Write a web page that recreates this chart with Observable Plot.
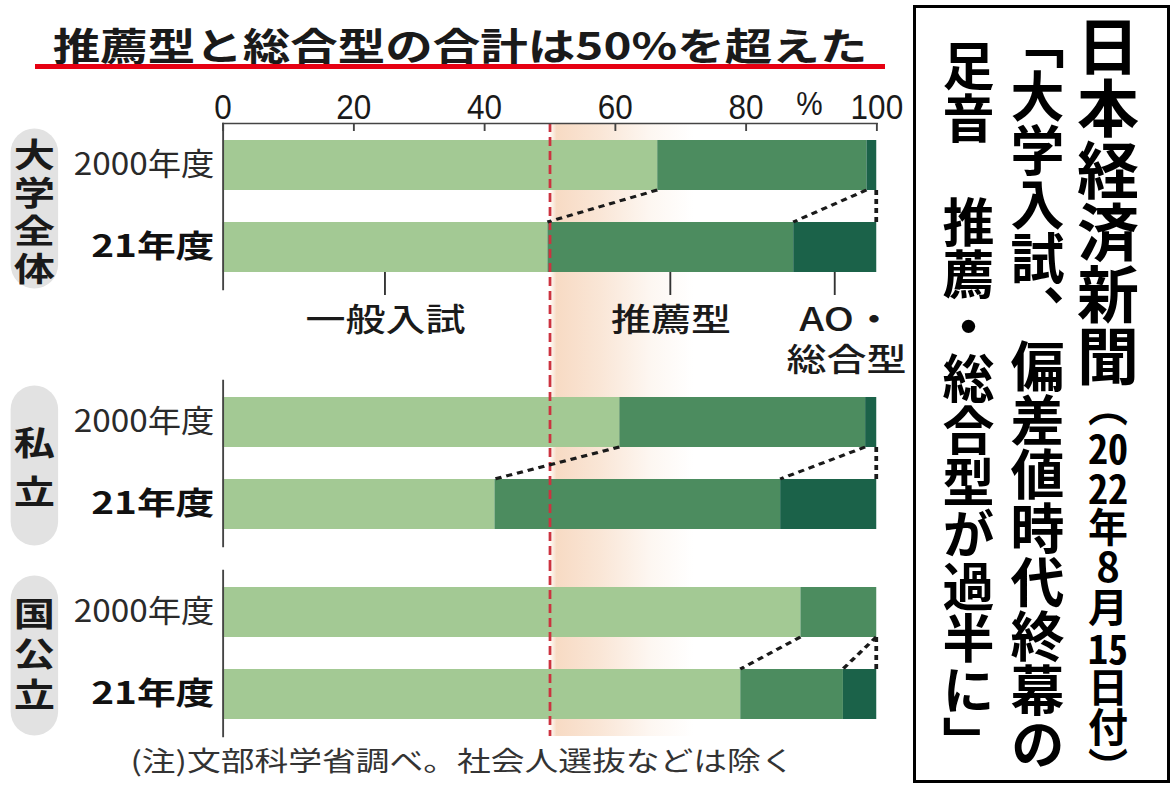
<!DOCTYPE html>
<html><head><meta charset="utf-8">
<script src="https://cdn.jsdelivr.net/npm/d3@7"></script>
<script src="https://cdn.jsdelivr.net/npm/@observablehq/plot@0.6"></script>
<style>
html,body{margin:0;padding:0;background:#fff;}
body{width:1176px;height:787px;position:relative;overflow:hidden;font-family:"Noto Sans CJK JP",sans-serif;}
#left{position:absolute;left:0;top:0;width:724px;height:787px;transform:scaleX(1.25);transform-origin:0 0;}
#title{position:absolute;left:28px;width:680px;top:21px;text-align:center;font-size:38px;font-weight:700;line-height:46px;color:#1a1a1a;white-space:nowrap;}
#redline{position:absolute;left:28px;top:64px;width:680px;height:5px;background:#e60012;}
.plot{position:absolute;left:0;}
.plot svg{overflow:visible;}
#note{position:absolute;left:0;width:740px;top:744px;text-align:center;font-size:27px;line-height:32px;color:#333;white-space:nowrap;}
#box{position:absolute;left:913px;top:5px;width:251px;height:772px;border:3px solid #000;}
.col{position:absolute;writing-mode:vertical-rl;font-weight:700;color:#000;white-space:nowrap;line-height:1;}
#c1{left:161px;top:7px;font-size:62px;}
#c1 .small{font-size:40px;}
#c2{left:94px;top:7px;font-size:54px;}
#c3{left:26px;top:32px;font-size:52px;}
.tcy{text-combine-upright:all;}
.up{text-orientation:upright;}
</style>
</head><body>
<svg width="0" height="0" style="position:absolute">
  <defs>
    <linearGradient id="peach" x1="0" x2="1" y1="0" y2="0">
      <stop offset="0" stop-color="#f3c7a4" stop-opacity="0"/>
      <stop offset="0.05" stop-color="#f3c7a4" stop-opacity="0.65"/>
      <stop offset="0.35" stop-color="#f3c7a4" stop-opacity="0.45"/>
      <stop offset="0.7" stop-color="#f3c7a4" stop-opacity="0.15"/>
      <stop offset="1" stop-color="#f3c7a4" stop-opacity="0"/>
    </linearGradient>
  </defs>
</svg>
<div id="left">
  <div id="title">推薦型と総合型の合計は50%を超えた</div>
  <div id="redline"></div>
  <div id="p1" class="plot" style="top:75px"></div>
  <div id="p2" class="plot" style="top:378px"></div>
  <div id="p3" class="plot" style="top:562px"></div>
  <div id="note">(注)文部科学省調べ。社会人選抜などは除く</div>
</div>
<div id="box">
  <div class="col" id="c1">日本経済新聞<span class="small">（<span class="tcy">20</span><span class="tcy">22</span>年<span class="up">8</span>月<span class="tcy">15</span>日付）</span></div>
  <div class="col" id="c2">「大学入試、偏差値時代終幕の</div>
  <div class="col" id="c3">足音　推薦・総合型が過半に」</div>
</div>
<script>
// ---- data ----
const groups = ["大学全体", "私立", "国公立"];
const years = ["2000年度", "21年度"];
const types = ["一般入試", "推薦型", "AO・総合型"];
// order: 大学全体 2000, 21, 私立 2000, 21, 国公立 2000, 21
const ippan  = [66.5, 49.7, 60.7, 41.6, 88.4, 79.2];
const suisen = [32.0, 37.6, 37.6, 43.7, 11.6, 15.7];
const aoSogo = [1.5, 12.7, 1.7, 14.7, 0.0, 5.1];
const xTicks = [0, 20, 40, 60, 80, 100];
const majority = [50];
const highlightBand = [{x1: 50, x2: 72}];
const colors = ["#a3c994", "#4c8c5f", "#1b6249"];

const series = [ippan, suisen, aoSogo];
const table = groups.flatMap((g, gi) => years.flatMap((yr, yi) =>
  types.map((t, ti) => ({group: g, year: yr, type: t, value: series[ti][gi * 2 + yi]}))));

function ends(g, yr) {
  const rows = table.filter(d => d.group === g && d.year === yr);
  let c = 0;
  return rows.map(d => (c += d.value));
}

const W = 724, ML = 178, MR = 23, FH = 166;
const FRAME_W = W - ML - MR;
const PILL_L = 8, PILL_R = 46;
const FONT = "'Noto Sans CJK JP', sans-serif";
const DIGITS = "'Liberation Sans', Arial, sans-serif";

function connectors(g, leaders) {
  return (index, scales) => {
    const {x, y} = scales;
    const bw = y.bandwidth();
    const a = ends(g, years[0]), b = ends(g, years[1]);
    const yA = y(years[0]) + bw, yB = y(years[1]);
    const sel = d3.create("svg:g");
    const dl = sel.append("g").attr("fill", "none").attr("stroke", "#1a1a1a")
      .attr("stroke-width", 3).attr("stroke-dasharray", "5,4");
    a.forEach((v, i) => dl.append("line")
      .attr("x1", x(v)).attr("y1", yA).attr("x2", x(b[i])).attr("y2", yB));
    if (leaders) {
      const rows = table.filter(d => d.group === g && d.year === years[1]);
      let c = 0;
      const lg = sel.append("g").attr("stroke", "#333").attr("stroke-width", 1.5);
      rows.forEach(d => {
        const mid = c + d.value / 2; c += d.value;
        lg.append("line").attr("x1", x(mid)).attr("x2", x(mid))
          .attr("y1", yB + bw).attr("y2", yB + bw + 23);
      });
    }
    return sel.node();
  };
}

// narrow selected texts horizontally (the reference uses condensed digits)
function squeeze(svg, match, sx) {
  svg.querySelectorAll("text").forEach(node => {
    if (!match(node.textContent)) return;
    const t = node.getAttribute("transform") || "";
    node.setAttribute("transform", `${t} scale(${sx},1)`);
  });
}

function groupPlot(g, o) {
  const rows = table.filter(d => d.group === g);
  const legendRows = (() => {
    let c = 0;
    return rows.filter(d => d.year === years[1]).map(d => {
      const mid = c + d.value / 2; c += d.value;
      return {type: d.type, mid};
    });
  })();
  const marks = [
    Plot.frame({fill: "#e2e2e2", stroke: null, rx: 19, ry: 24,
      insetLeft: -(ML - PILL_L), insetRight: (ML + FRAME_W) - PILL_R, insetTop: 5, insetBottom: 1}),
    Plot.text([g], {frameAnchor: "left", dx: (PILL_L + PILL_R) / 2 - ML, dy: o.gdy, textAnchor: "middle",
      text: d => [...d].join("\n"), lineHeight: o.glh, fontSize: 33, fontWeight: 700,
      fill: "#1a1a1a", fontFamily: FONT}),
    Plot.rect(highlightBand, {x1: "x1", x2: "x2", fill: "url(#peach)",
      insetTop: -o.extTop, insetBottom: -o.extBottom}),
    Plot.barX(rows, {x: "value", y: "year", fill: "type"}),
    Plot.ruleX(majority, {stroke: "#cc3340", strokeWidth: 2.2, strokeDasharray: "9,5",
      insetTop: -o.extTop, insetBottom: -o.extBottom}),
    connectors(g, o.legend),
    Plot.frame({anchor: "left", stroke: "#444", strokeWidth: 1.5}),
    Plot.text(years.slice(0, 1), {y: d => d, frameAnchor: "left", dx: -7, textAnchor: "end",
      fontSize: 31, fontWeight: 400, fill: "#2a2a2a", fontFamily: FONT}),
    Plot.text(years.slice(1), {y: d => d, frameAnchor: "left", dx: -7, textAnchor: "end",
      fontSize: 31, fontWeight: 700, fill: "#111", fontFamily: FONT})
  ];
  if (o.axis) {
    marks.push(
      Plot.frame({anchor: "top", stroke: "#444", strokeWidth: 1.5}),
      Plot.ruleX(xTicks, {stroke: "#444", strokeWidth: 1.5, insetBottom: FH - 8}),
      Plot.axisX(xTicks, {anchor: "top", tickSize: 0, tickPadding: 5, fontSize: 35,
        fontFamily: DIGITS, fill: "#1a1a1a", label: null, tickFormat: d => String(d)}),
      Plot.text(["%"], {frameAnchor: "top-right", dx: -54, dy: -19, fontSize: 33, textAnchor: "middle",
        fontFamily: DIGITS, fill: "#1a1a1a", lineAnchor: "middle"})
    );
  }
  if (o.legend) {
    marks.push(
      Plot.text(legendRows.filter(d => d.type !== types[2]), {x: "mid", y: () => years[1],
        text: "type", dy: 73, fontSize: 32, fontWeight: 500, fill: "#1a1a1a", fontFamily: FONT,
        lineAnchor: "middle"}),
      Plot.text(legendRows.filter(d => d.type === types[2]), {x: "mid", y: () => years[1],
        text: () => "AO・\n総合型", dy: 91, dx: 9, lineHeight: 1.25, fontSize: 32, fontWeight: 500,
        fill: "#1a1a1a", fontFamily: FONT, lineAnchor: "middle"})
    );
  }
  const svg = Plot.plot({
    width: W, height: o.mt + FH + o.mb,
    marginLeft: ML, marginRight: MR, marginTop: o.mt, marginBottom: o.mb,
    x: {domain: [0, 100], ...(o.axis ? {} : {axis: null})},
    y: {domain: years, paddingInner: 0.39, paddingOuter: 0.207, axis: null},
    color: {domain: types, range: colors},
    style: {fontFamily: FONT, background: "transparent", overflow: "visible", color: "#1a1a1a"},
    marks
  });
  const tickSet = new Set(xTicks.map(String));
  squeeze(svg, s => s === years[0], 0.86);
  squeeze(svg, s => tickSet.has(s), 0.72);
  squeeze(svg, s => s === "%", 0.72);
  return svg;
}

document.getElementById("p1").append(groupPlot(groups[0],
  {mt: 48, mb: 89, extTop: 0, extBottom: 89, axis: true, legend: true, gdy: 5, glh: 1.15}));
document.getElementById("p2").append(groupPlot(groups[1],
  {mt: 2, mb: 16, extTop: 2, extBottom: 16, axis: false, legend: false, gdy: 0, glh: 1.5}));
document.getElementById("p3").append(groupPlot(groups[2],
  {mt: 8, mb: 4, extTop: 8, extBottom: 0, axis: false, legend: false, gdy: 0, glh: 1.22}));
</script>
</body></html>
